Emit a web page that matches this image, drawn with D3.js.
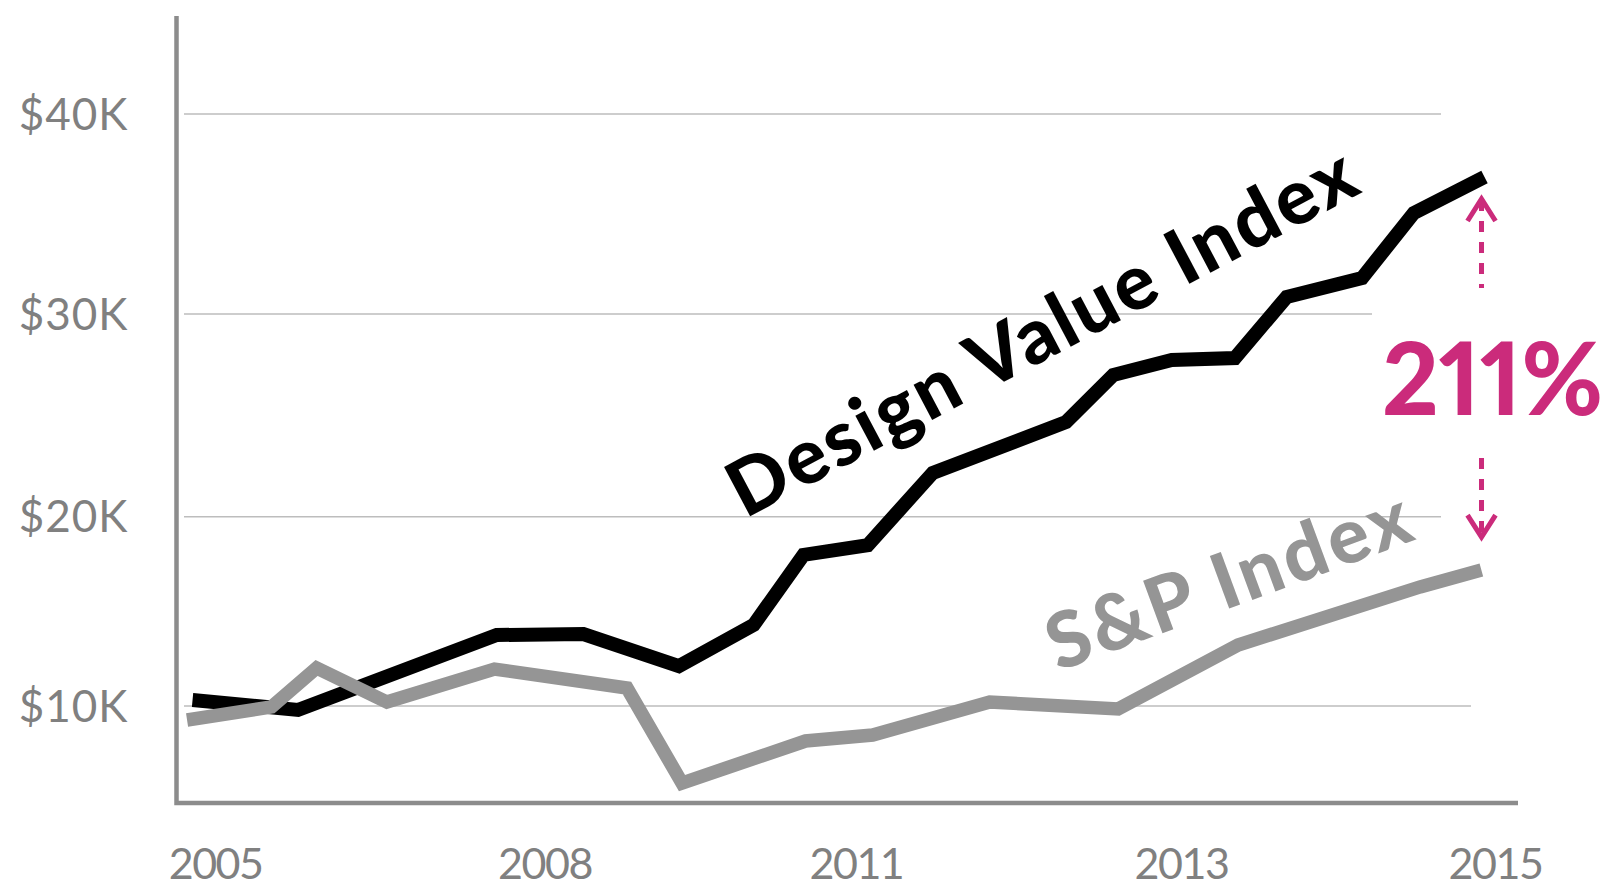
<!DOCTYPE html>
<html>
<head>
<meta charset="utf-8">
<script src="https://cdn.jsdelivr.net/npm/d3@7"></script>
<style>
  html, body { margin: 0; padding: 0; background: #ffffff; overflow: hidden; }
  svg { display: block; }
</style>
</head>
<body>
<svg id="chart" width="1610" height="886"></svg>
<script>
// ---------- data ----------
const tickYears  = [2005, 2008, 2011, 2013, 2015];
const tickValues = [10, 20, 30, 40];            // $ thousands

const designYears  = [2004.79, 2005.75, 2007.56, 2008.37, 2009.29, 2010.01, 2010.49, 2011.07,
                      2011.47, 2012.29, 2012.58, 2012.94, 2013.34, 2013.67, 2014.15, 2014.48, 2014.93];
const designValues = [10.32, 9.79, 13.75, 13.80, 12.11, 14.28, 17.98, 18.50,
                      22.16, 24.67, 26.99, 27.73, 27.83, 30.85, 31.80, 35.05, 36.85];

const spYears  = [2004.74, 2005.51, 2005.92, 2006.56, 2007.54, 2008.79, 2009.32, 2010.51,
                  2011.10, 2011.82, 2012.61, 2013.36, 2014.52, 2014.91];
const spValues = [9.26, 9.95, 12.01, 10.21, 11.95, 10.95, 5.93, 8.15,
                  8.47, 10.21, 9.84, 13.22, 16.29, 17.18];

const seriesNames = ["Design Value Index", "S&P Index"];
const gainLabel = "211%";

// ---------- layout ----------
const svg = d3.select("#chart");
const axisX = 176.5, axisTop = 16, axisBottom = 803, axisRight = 1518;

const x = d3.scaleLinear().domain(tickYears).range([215.6, 545, 856.4, 1181.5, 1495.5]);
const y = d3.scaleLinear().domain(tickValues).range([706, 516.7, 314, 114]);

const pink = "#cb2b7b";
const grey = "#959595";
const axisGrey = "#8c8c8c";
const labelGrey = "#808080";

// gridlines (right ends stop short of the annotation)
const gridEnd = {10: 1471, 20: 1441, 30: 1372, 40: 1441};
svg.append("g").selectAll("line").data(tickValues).join("line")
  .attr("x1", 184).attr("x2", d => gridEnd[d])
  .attr("y1", d => y(d)).attr("y2", d => y(d))
  .attr("stroke", "#bdbdbd").attr("stroke-width", 1.4);

// y labels
svg.append("g").selectAll("text").data(tickValues).join("text")
  .attr("x", 128.5).attr("y", d => y(d) + 15.5)
  .attr("text-anchor", "end")
  .attr("font-family", "Lato, 'Open Sans', sans-serif")
  .attr("font-size", 44).attr("fill", labelGrey)
  .attr("letter-spacing", 1)
  .text(d => "$" + d + "K");

// x labels
svg.append("g").selectAll("text").data(tickYears).join("text")
  .attr("x", d => x(d)).attr("y", 879)
  .attr("text-anchor", "middle")
  .attr("font-family", "Lato, 'Open Sans', sans-serif")
  .attr("font-size", 43).attr("fill", labelGrey)
  .attr("letter-spacing", -1.5)
  .text(d => d);

// axes
svg.append("path")
  .attr("d", `M${axisX},${axisTop} V${axisBottom} H${axisRight}`)
  .attr("fill", "none").attr("stroke", axisGrey).attr("stroke-width", 4.5)
  .attr("stroke-linejoin", "miter");

// lines
const line = d3.line().x(d => x(d[0])).y(d => y(d[1]));
const designData = d3.zip(designYears, designValues);
const spData = d3.zip(spYears, spValues);

svg.append("path").datum(designData)
  .attr("d", line).attr("fill", "none").attr("stroke", "#000")
  .attr("stroke-width", 14).attr("stroke-linejoin", "miter").attr("stroke-miterlimit", 10)
  .attr("stroke-linecap", "butt");

svg.append("path").datum(spData)
  .attr("d", line).attr("fill", "none").attr("stroke", grey)
  .attr("stroke-width", 13.5).attr("stroke-linejoin", "miter").attr("stroke-miterlimit", 10)
  .attr("stroke-linecap", "butt");

// series labels
svg.append("text")
  .attr("transform", "translate(1054,355.5) rotate(-27.9)")
  .attr("text-anchor", "middle")
  .attr("font-family", "Lato, 'Open Sans', sans-serif")
  .attr("font-weight", 900).attr("font-size", 77)
  .attr("textLength", 699).attr("lengthAdjust", "spacing")
  .attr("fill", "#000")
  .text(seriesNames[0]);

svg.append("text")
  .attr("transform", "translate(1237.5,605.5) rotate(-20.3)")
  .attr("text-anchor", "middle")
  .attr("font-family", "Lato, 'Open Sans', sans-serif")
  .attr("font-weight", 900).attr("font-size", 77)
  .attr("textLength", 382).attr("lengthAdjust", "spacing")
  .attr("fill", grey)
  .text(seriesNames[1]);

// annotation: dashed arrows + percentage
const lastD = designData[designData.length - 1];
const lastS = spData[spData.length - 1];
const ax = x(lastD[0]) - 3;
const upTip = y(lastD[1]) + 21;
const downTip = y(lastS[1]) - 32;

const ann = svg.append("g").attr("stroke", pink).attr("fill", "none").attr("stroke-width", 5);
ann.append("line").attr("x1", ax).attr("x2", ax).attr("y1", upTip + 2).attr("y2", upTip + 90)
  .attr("stroke-dasharray", "11 10");
ann.append("path").attr("d", `M${ax - 14},${upTip + 23} L${ax},${upTip + 1} L${ax + 14},${upTip + 23}`);
ann.append("line").attr("x1", ax).attr("x2", ax).attr("y1", downTip - 80).attr("y2", downTip - 2)
  .attr("stroke-dasharray", "11 10");
ann.append("path").attr("d", `M${ax - 14},${downTip - 23} L${ax},${downTip - 1} L${ax + 14},${downTip - 23}`);

svg.append("text")
  .attr("x", ax + 11).attr("y", 415)
  .attr("text-anchor", "middle")
  .attr("font-family", "Lato, 'Open Sans', sans-serif")
  .attr("font-weight", 900).attr("font-size", 101)
  .style("font-variant-numeric", "proportional-nums")
  .attr("textLength", 221).attr("lengthAdjust", "spacingAndGlyphs")
  .attr("fill", pink)
  .text(gainLabel);
</script>
</body>
</html>
